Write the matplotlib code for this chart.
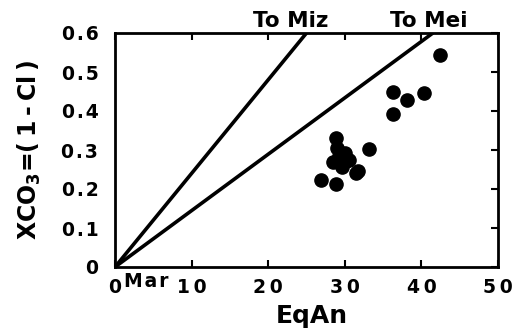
import matplotlib
matplotlib.use("Agg")
import matplotlib.pyplot as plt

# data
eqan = [42.4, 36.3, 38.1, 40.4, 36.3, 33.2, 28.8, 29.0, 30.0, 28.5, 30.2, 29.6, 31.5, 31.7, 26.9, 28.8, 29.3, 30.5]
xco3 = [0.543, 0.449, 0.428, 0.446, 0.393, 0.302, 0.330, 0.305, 0.293, 0.268, 0.272, 0.256, 0.240, 0.247, 0.223, 0.212, 0.285, 0.275]
miz_end = (25.0, 0.6)
mei_end = (41.5, 0.6)
xticks = [0, 10, 20, 30, 40, 50]
xtick_labels = ["0", "1\u20090", "2\u20090", "3\u20090", "4\u20090", "5\u20090"]
yticks = [0, 0.1, 0.2, 0.3, 0.4, 0.5, 0.6]
ytick_labels = ["0", "0\u200a.\u200a1", "0\u200a.\u200a2", "0\u200a.\u200a3", "0\u200a.\u200a4", "0\u200a.\u200a5", "0\u200a.\u200a6"]

plt.rcParams['font.family'] = ['DejaVu Sans']
plt.rcParams['font.weight'] = 'bold'
plt.rcParams['mathtext.default'] = 'regular'

fig = plt.figure(figsize=(5.21, 3.31), dpi=100)
ax = fig.add_axes([115/521, 1-267/331, (498-115)/521, (267-33)/331])

ax.plot([0, miz_end[0]], [0, miz_end[1]], color='black', lw=2.6, solid_capstyle='butt')
ax.plot([0, mei_end[0]], [0, mei_end[1]], color='black', lw=2.6, solid_capstyle='butt')
ax.plot(eqan, xco3, 'o', color='black', ms=9.5, mec='black')

ax.set_xlim(0, 50)
ax.set_ylim(0, 0.6)
ax.set_xticks(xticks)
ax.set_xticklabels(xtick_labels)
ax.set_yticks(yticks)
ax.set_yticklabels(ytick_labels)
for s in ax.spines.values():
    s.set_linewidth(2.0)
ax.tick_params(direction='in', length=5, width=1.5, top=True, right=True, left=False,
               labelleft=True, labelsize=13.5)
ax.tick_params(axis='x', pad=8)
ax.tick_params(axis='y', pad=12)
for lab in ax.get_xticklabels() + ax.get_yticklabels():
    lab.set_fontweight('bold')

ax.set_xlabel('EqAn', fontsize=18, fontweight='bold')
ax.xaxis.set_label_coords(0.514, -0.16)
ax.set_ylabel('XCO$_3$=(\u20091\u2009-\u2009Cl\u2009)', fontsize=17, fontweight='bold', labelpad=13)

ax.text(4.1, -0.036, 'M\u200aa\u200ar', fontsize=13.5, fontweight='bold', ha='center', va='center')
ax.text(23.0, 0.615, 'To Miz', fontsize=15.5, fontweight='bold', ha='center', va='baseline')
ax.text(40.9, 0.615, 'To Mei', fontsize=15.5, fontweight='bold', ha='center', va='baseline')
for t in ax.texts:
    t.set_clip_on(False)

fig.savefig('out.png', dpi=100)
